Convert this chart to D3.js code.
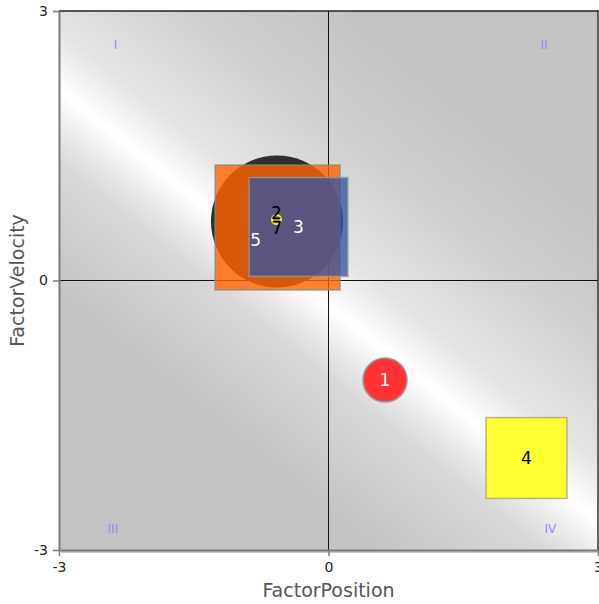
<!DOCTYPE html>
<html><head><meta charset="utf-8">
<script src="https://cdn.jsdelivr.net/npm/d3@7"></script>
<style>html,body{margin:0;padding:0;background:#fff;}svg{display:block;}</style>
</head><body>
<script>
// ---- data ----
const ids    = ["6", "5", "3", "2", "1", "4"];
const labels = ["",  "5", "3", "2", "1", "4"];
const xs     = [-0.573, -0.567, -0.334, -0.579, 0.629, 2.204];
const ys     = [0.657, 0.590, 0.596, 0.679, -1.108, -1.976];
const sizes  = [0.735, 0.695, 0.550, 0.050, 0.245, 0.450];   // radius / half-side in axis units
const shapes = ["circle", "square", "square", "circle", "circle", "square"];
const extraLabel = {text: "7", of: "6"};
const xTicks = [-3, 0, 3];
const yTicks = [-3, 0, 3];
const quadrants = ["I", "II", "III", "IV"];
const quadX = [-2.37, 2.40, -2.40, 2.47];
const quadY = [2.62, 2.62, -2.77, -2.77];

// ---- styles ----
const fills   = {"6": "#2f302d", "5": "#ff6400", "3": "#3753a1", "2": "#ffff33", "1": "#ff3333", "4": "#ffff33"};
const opac    = {"6": 1, "5": 0.8, "3": 0.78, "2": 0.35, "1": 1, "4": 1};
const strokes = {"6": "none", "5": "#888", "3": "#999", "2": "#f0f020", "1": "#999", "4": "#aaa07a"};
const labelColor = {"5": "#fff", "3": "#fff", "2": "#000", "1": "#fff", "4": "#000"};
const labelOff = {"5": [-22, 13], "3": [0, 0], "2": [0, -7], "1": [0, 0], "4": [0, 0]};

const W = 599, H = 604;
const L = 59, R = 598, T = 11, B = 550;
const FONT = "DejaVu Sans, Verdana, sans-serif";
const x = d3.scaleLinear().domain([-3, 3]).range([L, R]);
const y = d3.scaleLinear().domain([-3, 3]).range([B, T]);

const svg = d3.select("body").append("svg").attr("width", W).attr("height", H);
const defs = svg.append("defs");

// background gradient: white streak running from upper-left to lower-right
const cx = 328, cy = 305, ux = 0.625, uy = -0.781, half = 400;
const grad = defs.append("linearGradient").attr("id", "bg")
  .attr("gradientUnits", "userSpaceOnUse")
  .attr("x1", cx - ux * half).attr("y1", cy - uy * half)
  .attr("x2", cx + ux * half).attr("y2", cy + uy * half);
[[0, "#c4c4c4"], [0.3, "#c4c4c4"], [0.43, "#d8d8d8"], [0.5, "#ffffff"],
 [0.56, "#e4e4e4"], [0.68, "#cfcfcf"], [0.8, "#c4c4c4"], [1, "#c4c4c4"]]
 .forEach(s => grad.append("stop").attr("offset", s[0]).attr("stop-color", s[1]));

svg.append("rect").attr("x", L).attr("y", T).attr("width", R - L).attr("height", B - T)
  .attr("fill", "url(#bg)");

// quadrant labels
svg.append("g").selectAll("text").data(quadrants).join("text")
  .attr("x", (d, i) => x(quadX[i])).attr("y", (d, i) => y(quadY[i]))
  .attr("text-anchor", "middle").attr("dominant-baseline", "central")
  .attr("font-family", FONT).attr("font-size", 12)
  .attr("fill", "#8f8ff2").text(d => d);

// zero lines
svg.append("line").attr("x1", x(0)).attr("x2", x(0)).attr("y1", T).attr("y2", B)
  .attr("stroke", "#111").attr("stroke-width", 1);
svg.append("line").attr("x1", L).attr("x2", R).attr("y1", y(0)).attr("y2", y(0))
  .attr("stroke", "#111").attr("stroke-width", 1);

// frame
svg.append("line").attr("x1", L).attr("x2", R + 1).attr("y1", T).attr("y2", T).attr("stroke", "#222").attr("stroke-width", 1.5);
svg.append("line").attr("x1", R).attr("x2", R).attr("y1", T).attr("y2", B).attr("stroke", "#333").attr("stroke-width", 1.5);
svg.append("line").attr("x1", L + 2).attr("x2", R).attr("y1", B + 2).attr("y2", B + 2).attr("stroke", "#c8c8c8").attr("stroke-width", 2);

// marks
const pts = ids.map((id, i) => ({id, label: labels[i], x: xs[i], y: ys[i], s: sizes[i], shape: shapes[i]}));
const mg = svg.append("g");
pts.forEach(p => {
  const px = x(p.x), py = y(p.y), r = x(p.s) - x(0);
  if (p.shape === "circle") {
    mg.append("circle").attr("cx", px).attr("cy", py).attr("r", r)
      .attr("fill", fills[p.id]).attr("fill-opacity", opac[p.id])
      .attr("stroke", strokes[p.id]).attr("stroke-width", p.id === "2" ? 2 : 1.5);
  } else {
    mg.append("rect").attr("x", px - r).attr("y", py - r).attr("width", 2 * r).attr("height", 2 * r)
      .attr("fill", fills[p.id]).attr("fill-opacity", opac[p.id])
      .attr("stroke", strokes[p.id]).attr("stroke-opacity", 0.8).attr("stroke-width", 1.5);
  }
});

// labels
const lg = svg.append("g").attr("font-family", FONT).attr("font-size", 17)
  .attr("text-anchor", "middle").attr("dominant-baseline", "central");
pts.filter(p => p.label).forEach(p => {
  const o = labelOff[p.id];
  lg.append("text").attr("x", x(p.x) + o[0]).attr("y", y(p.y) + o[1])
    .attr("fill", labelColor[p.id]).text(p.label);
});
const host = pts.find(p => p.id === extraLabel.of);
lg.append("text").attr("x", x(host.x)).attr("y", y(host.y) + 7).attr("fill", "#000").text(extraLabel.text);

// axes
const xa = svg.append("g").attr("transform", `translate(0,${B})`)
  .call(d3.axisBottom(x).tickValues(xTicks).tickSize(6).tickSizeOuter(0).tickFormat(d => String(d)));
const ya = svg.append("g").attr("transform", `translate(${L},0)`)
  .call(d3.axisLeft(y).tickValues(yTicks).tickSize(6).tickSizeOuter(0).tickFormat(d => String(d)));
[xa, ya].forEach(a => {
  a.select(".domain").attr("stroke", "#7a7a7a").attr("stroke-width", 2);
  a.selectAll(".tick line").attr("stroke", "#7a7a7a").attr("stroke-width", 1.5);
  a.selectAll("text").attr("font-family", FONT).attr("font-size", 14).attr("fill", "#222");
});
ya.selectAll("text").attr("x", -11);
xa.selectAll("text").attr("y", 12);

// axis titles
svg.append("text").attr("x", x(0)).attr("y", 590).attr("text-anchor", "middle")
  .attr("dominant-baseline", "central")
  .attr("font-family", FONT).attr("font-size", 19).attr("fill", "#555")
  .text("FactorPosition");
svg.append("text").attr("transform", `translate(17,${y(0)}) rotate(-90)`).attr("text-anchor", "middle")
  .attr("dominant-baseline", "central")
  .attr("font-family", FONT).attr("font-size", 19).attr("fill", "#555")
  .text("FactorVelocity");
</script>
</body></html>
